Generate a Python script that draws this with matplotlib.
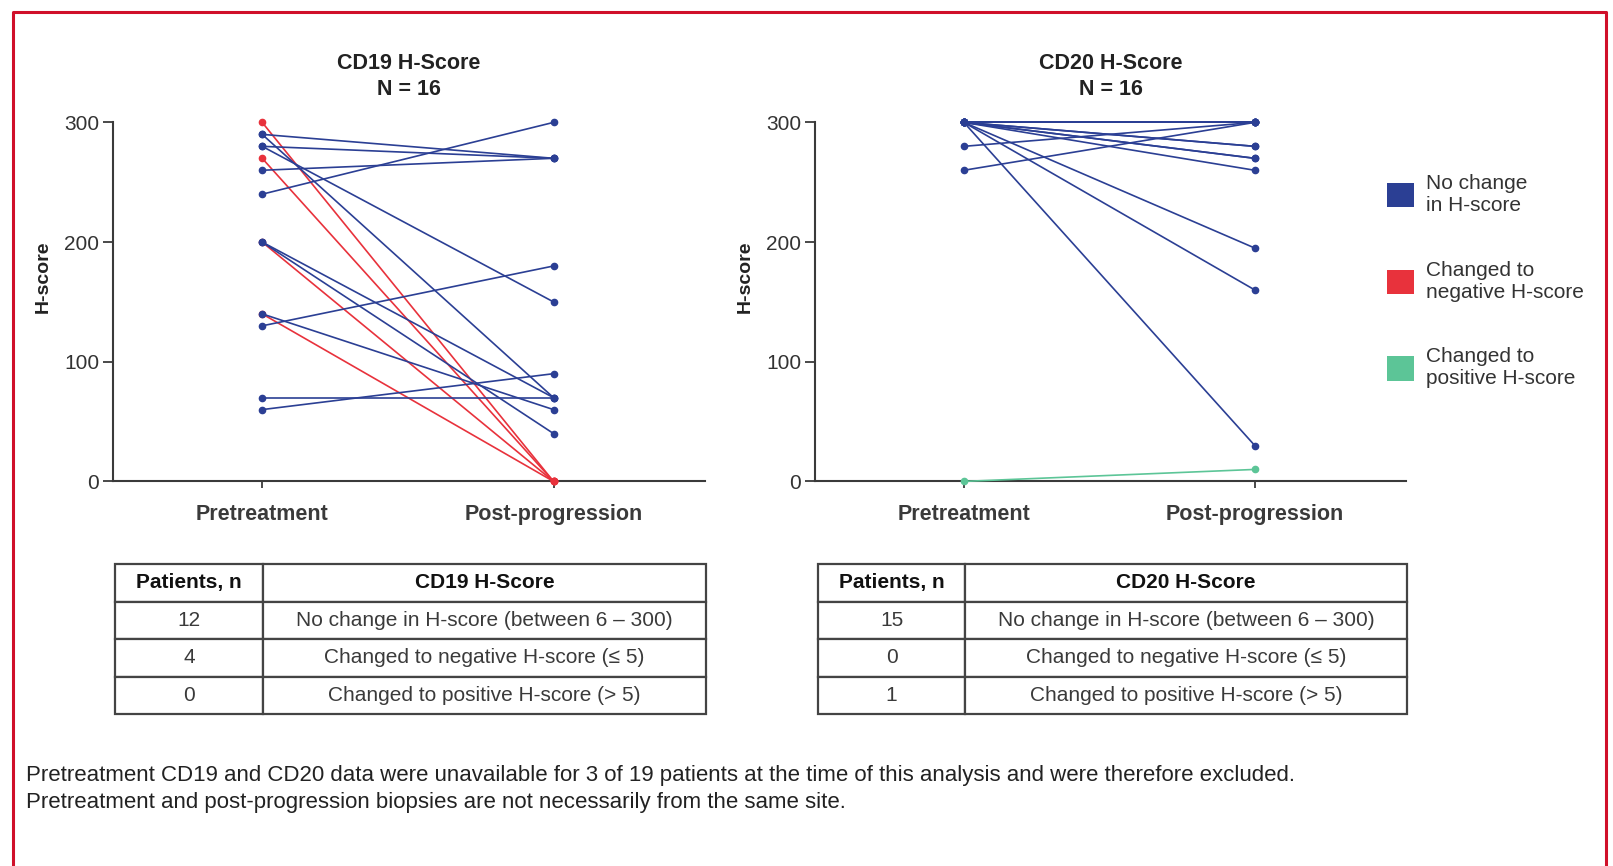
import matplotlib
matplotlib.use('Agg')
import matplotlib.pyplot as plt
from matplotlib.lines import Line2D
from matplotlib.patches import Patch

plt.rcParams['font.family'] = ['Liberation Sans', 'DejaVu Sans']

categories = ['Pretreatment', 'Post-progression']

# CD19 paired scores (pretreatment, post-progression)
cd19_pre_same = [290, 280, 260, 240, 280, 290, 200, 200, 140, 130, 70, 60]
cd19_post_same = [270, 270, 270, 300, 150, 70, 40, 70, 60, 180, 70, 90]
cd19_pre_neg = [300, 270, 200, 140]
cd19_post_neg = [0, 0, 0, 0]

# CD20 paired scores
cd20_pre_same = [300, 300, 300, 300, 300, 300, 300, 300, 300, 300, 300, 300, 300, 280, 260]
cd20_post_same = [300, 300, 300, 300, 300, 280, 280, 270, 270, 260, 195, 160, 30, 300, 300]
cd20_pre_pos = [0]
cd20_post_pos = [10]

yticks = [0, 100, 200, 300]

legend_labels = ['No change\nin H-score', 'Changed to\nnegative H-score',
                 'Changed to\npositive H-score']

table_col_labels = ['Patients, n', 'H-Score']
change_rows = ['No change in H-score (between 6 \u2013 300)',
               'Changed to negative H-score (\u2264 5)',
               'Changed to positive H-score (> 5)']
cd19_counts = [12, 4, 0]
cd20_counts = [15, 0, 1]

footnote = ('Pretreatment CD19 and CD20 data were unavailable for 3 of 19 patients at the time '
            'of this analysis and were therefore excluded.\n'
            'Pretreatment and post-progression biopsies are not necessarily from the same site.')

BLUE = '#2b3f94'
RED = '#e8323c'
GREEN = '#5cc597'
AXC = '#3a3a3a'

W, H = 1613, 866
fig = plt.figure(figsize=(W / 100, H / 100), dpi=100)


def px(x0, y0, x1, y1):
    '''Pixel box (left, top, right, bottom) to figure fraction rect.'''
    return [x0 / W, 1 - y1 / H, (x1 - x0) / W, (y1 - y0) / H]


def paired(ax, pre, post, color):
    for a, b in zip(pre, post):
        ax.plot([0, 1], [a, b], color=color, lw=1.2, marker='o', ms=4.5,
                clip_on=False, zorder=3)


def panel(rect, title, groups):
    ax = fig.add_axes(rect)
    for pre, post, color in groups:
        paired(ax, pre, post, color)
    ax.set_xlim(-0.512, 1.52)
    ax.set_ylim(0, 300)
    ax.set_yticks(yticks)
    ax.set_xticks([0, 1])
    ax.set_xticklabels(categories, fontsize=15.5, fontweight='bold', color='#222')
    ax.tick_params(axis='y', labelsize=15, colors=AXC, length=7, width=1.3, pad=3)
    ax.tick_params(axis='x', length=5, width=1.3, colors=AXC, pad=11)
    for lab in ax.get_yticklabels():
        lab.set_color('#333')
    for s in ['top', 'right']:
        ax.spines[s].set_visible(False)
    for s in ['left', 'bottom']:
        ax.spines[s].set_color(AXC)
        ax.spines[s].set_linewidth(1.5)
    ax.set_ylabel('H-score', fontsize=14, fontweight='bold', color='#222')
    ax.yaxis.set_label_coords(-0.104, 0.57)
    ax.set_title(title, fontsize=15.5, fontweight='bold', color='#222', pad=20,
                 linespacing=1.32)
    return ax


panel(px(113, 122.4, 705, 481.4), 'CD19 H-Score\nN = 16',
      [(cd19_pre_neg, cd19_post_neg, RED), (cd19_pre_same, cd19_post_same, BLUE)])
panel(px(815, 122.4, 1406, 481.4), 'CD20 H-Score\nN = 16',
      [(cd20_pre_pos, cd20_post_pos, GREEN), (cd20_pre_same, cd20_post_same, BLUE)])

# legend on the right
handles = [Patch(facecolor=c, edgecolor='none') for c in (BLUE, RED, GREEN)]
fig.legend(handles, legend_labels, loc='upper left', bbox_to_anchor=(1368 / W, 1 - 155 / H),
           frameon=False, fontsize=15, handlelength=1.3, handleheight=1.4,
           labelspacing=2.2, handletextpad=0.6, labelcolor='#333')


def table(rect, name, counts):
    ax = fig.add_axes(rect)
    ax.axis('off')
    cells = [[str(n), r] for n, r in zip(counts, change_rows)]
    cols = [table_col_labels[0], name + ' ' + table_col_labels[1]]
    tb = ax.table(cellText=cells, colLabels=cols, colWidths=[0.25, 0.75],
                  cellLoc='center', bbox=[0, 0, 1, 1])
    tb.auto_set_font_size(False)
    for (r, c), cell in tb.get_celld().items():
        cell.set_edgecolor('#444')
        cell.set_linewidth(1.6)
        cell.get_text().set_fontsize(15)
        if r == 0:
            cell.get_text().set_fontweight('bold')
            cell.get_text().set_color('#111')
        else:
            cell.get_text().set_color('#3a3a3a')


table(px(115, 564, 706, 714), 'CD19', cd19_counts)
table(px(818, 564, 1407, 714), 'CD20', cd20_counts)

fig.text(26 / W, 1 - 765 / H, footnote, fontsize=16, color='#222',
         va='top', ha='left', linespacing=1.4)

# crimson frame, open at the bottom
fig.add_artist(Line2D([13 / W, 13 / W, 1606 / W, 1606 / W],
                      [0, 1 - 12 / H, 1 - 12 / H, 0],
                      transform=fig.transFigure, color='#d0102a', lw=2.2))

fig.savefig('out.png', dpi=100, facecolor='white')
